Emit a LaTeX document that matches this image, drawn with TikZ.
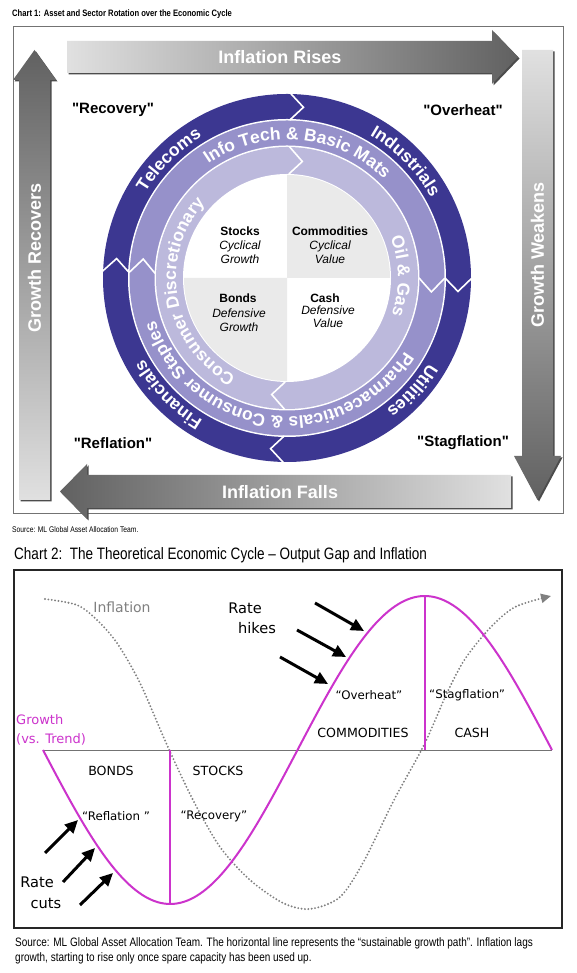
\documentclass[tikz,border=0pt]{standalone}
\usepackage{fontspec}
\setmainfont{Liberation Sans}
\newfontfamily\plainfont{Liberation Sans}
\newfontfamily\narrowfont[FakeStretch=0.82]{Liberation Sans}
\newfontfamily\comicfont{DejaVu Sans}
\usetikzlibrary{decorations.text,arrows.meta}
\definecolor{ringA}{RGB}{60,55,145}
\definecolor{ringB}{RGB}{150,145,202}
\definecolor{ringC}{RGB}{188,185,220}
\definecolor{quadgray}{RGB}{234,234,234}
\definecolor{growthmag}{RGB}{204,51,204}
\definecolor{inflgray}{RGB}{128,128,128}
\newcommand\ringfont{\fontsize{17.5}{17.5}\selectfont\bfseries}
\newcommand\ringlabel[3]{%
  \path[decorate, decoration={text along path, text align=center, text color=white, text={|\ringfont|#1}}]
    ([shift={({#2+88}:#3pt)}]C) arc[start angle={#2+88}, end angle={#2-88}, radius=#3pt];}
\newcommand\ringchev[5]{%
  \draw[white, line width=1.6pt, line join=miter] ([shift={(#1:#4pt)}]C) -- ([shift={({#1-#5}:#3pt)}]C) -- ([shift={(#1:#2pt)}]C);}
\begin{document}
\begin{tikzpicture}[x=1pt, y=1pt,
  arrtxt/.style={text=white, font=\fontsize{18}{18}\selectfont\bfseries, inner sep=0},
  phase/.style={font=\plainfont\bfseries\fontsize{15}{15}\selectfont, inner sep=0},
  qname/.style={font=\fontsize{12}{12}\selectfont\bfseries, inner sep=0},
  qdesc/.style={font=\fontsize{12}{12}\selectfont\itshape, inner sep=0},
  capsl/.style={font=\comicfont\fontsize{12.6}{13}\selectfont, inner sep=0},
  quotl/.style={font=\comicfont\fontsize{11.8}{12}\selectfont, inner sep=0},
  ratel/.style={font=\comicfont\fontsize{14.6}{15}\selectfont, inner sep=0},
  growth/.style={draw=growthmag, line width=2pt},
  ratearrow/.style={line width=3pt, -{Triangle[length=13pt,width=12pt]}},
  infl/.style={draw=inflgray, line width=2.1pt, dash pattern=on 0pt off 3.4pt, line cap=round}
]
\useasboundingbox (0,0) rectangle (577,973);
\fill[white] (0,0) rectangle (577,973);

% ---------------- Chart 1 ----------------
\node[anchor=west, font=\narrowfont\bfseries\fontsize{9.3}{10}\selectfont, inner sep=0] (t1) at (12,959) {Chart 1: Asset and Sector Rotation over the Economic Cycle};
\draw[black!55, line width=0.8pt] (13,460) rectangle (563,947);

% top arrow
\fill[black!70, shift={(1.5,-1.5)}] (67,932) -- (492,932) -- (492,943) -- (518,916) -- (492,889) -- (492,900) -- (67,900) -- cycle;
\shade[left color=black!12, right color=black!62] (67,932) -- (492,932) -- (492,943) -- (518,916) -- (492,889) -- (492,900) -- (67,900) -- cycle;
% right arrow
\fill[black!70, shift={(1.5,-1.5)}] (522,923) -- (553,923) -- (553,517) -- (561,517) -- (537.5,473) -- (514,517) -- (522,517) -- cycle;
\shade[top color=black!12, bottom color=black!62] (522,923) -- (553,923) -- (553,517) -- (561,517) -- (537.5,473) -- (514,517) -- (522,517) -- cycle;
% bottom arrow
\fill[black!70, shift={(1.5,-1.5)}] (511,498) -- (87,498) -- (87,509) -- (60,481.5) -- (87,454) -- (87,465) -- (511,465) -- cycle;
\shade[left color=black!62, right color=black!12] (511,498) -- (87,498) -- (87,509) -- (60,481.5) -- (87,454) -- (87,465) -- (511,465) -- cycle;
% left arrow
\fill[black!70, shift={(1.5,-1.5)}] (19,473) -- (19,893) -- (13,893) -- (34.5,923) -- (56,893) -- (50,893) -- (50,473) -- cycle;
\shade[top color=black!62, bottom color=black!12] (19,473) -- (19,893) -- (13,893) -- (34.5,923) -- (56,893) -- (50,893) -- (50,473) -- cycle;

\node[arrtxt] (ir) at (280,916) {Inflation Rises};
\node[arrtxt] (if) at (280,481) {Inflation Falls};
\node[arrtxt, rotate=90] (gr) at (34.5,715) {Growth Recovers};
\node[arrtxt, rotate=90] (gw) at (537.5,718) {Growth Weakens};

\node[phase] (prec) at (113,863) {"Recovery"};
\node[phase] (pover) at (463,863) {"Overheat"};
\node[phase] (prefl) at (113,530) {"Reflation"};
\node[phase] (pstag) at (463,530) {"Stagflation"};

% rings
\coordinate (C) at (287,695);
\fill[ringA] (C) circle[radius=184pt];
\fill[white] (C) circle[radius=159pt];
\fill[ringB] (C) circle[radius=157.5pt];
\fill[white] (C) circle[radius=132.5pt];
\fill[ringC] (C) circle[radius=131pt];
\fill[white] (C) circle[radius=104pt];
\fill[quadgray] (C) -- ([shift={(0:103pt)}]C) arc[start angle=0, end angle=90, radius=103pt] -- cycle;
\fill[quadgray] (C) -- ([shift={(180:103pt)}]C) arc[start angle=180, end angle=270, radius=103pt] -- cycle;

\ringchev{89}{158}{171.5}{185}{4.5}
\ringchev{0}{158}{171.5}{185}{4.5}
\ringchev{269}{158}{171.5}{185}{4.5}
\ringchev{178}{158}{171.5}{185}{4.5}
\ringchev{0}{132}{145}{158}{5.5}
\ringchev{178}{132}{145}{158}{5.5}
\ringchev{89}{104}{117.5}{131.5}{6.5}
\ringchev{269}{104}{117.5}{131.5}{6.5}

\ringlabel{Telecoms}{135}{165}
\ringlabel{Industrials}{44.5}{165}
\ringlabel{Utilities}{-42}{165}
\ringlabel{Financials}{224.5}{165}
\ringlabel{Info Tech {\&} Basic Mats}{85}{138.5}
\ringlabel{Pharmaceuticals {\&} Consumer Staples}{263}{138.5}
\ringlabel{Consumer Discretionary}{190}{111}
\ringlabel{Oil {\&} Gas}{1}{111}

\node[qname] (qs) at (240,742) {Stocks};
\node[qdesc] (qs1) at (240,727) {Cyclical};
\node[qdesc] (qs2) at (240,714) {Growth};
\node[qname] (qc) at (330,742) {Commodities};
\node[qdesc] (qc1) at (330,727) {Cyclical};
\node[qdesc] (qc2) at (330,714) {Value};
\node[qname] (qb) at (238,675) {Bonds};
\node[qdesc] (qb1) at (239,660) {Defensive};
\node[qdesc] (qb2) at (239,646) {Growth};
\node[qname] (qk) at (325,675) {Cash};
\node[qdesc] (qk1) at (328,663) {Defensive};
\node[qdesc] (qk2) at (328,650) {Value};

\node[anchor=west, font=\narrowfont\fontsize{8.2}{9}\selectfont, inner sep=0] (src1) at (12,443) {Source: ML Global Asset Allocation Team.};

% ---------------- Chart 2 ----------------
\node[anchor=west, font=\narrowfont\fontsize{16.5}{17}\selectfont, inner sep=0] (t2) at (14,418) {Chart 2:\ \ The Theoretical Economic Cycle – Output Gap and Inflation};
\draw[black!85, line width=1.6pt] (14,45) rectangle (562,403);

\coordinate (hl) at (43,223);
\coordinate (hr) at (552,223);
\draw[black!55, line width=0.9pt] (hl) -- (hr);

% inflation
\draw[infl, -{Triangle[length=10pt,width=9pt]}] plot[smooth, tension=0.5] coordinates {(45,374) (77,368) (97,353) (117,330) (140,290) (167,228) (193,173) (220,126) (250,93) (283,70) (310,64) (340,76) (364,112) (394,173) (424,228) (447,280) (465,314) (490,345) (515,366) (551,377)};

% growth
\draw[growth] plot[domain=43:552, samples=160] (\x, {223-154*sin(0.707269*(\x-43))});
\coordinate (gmin) at (170.25,69);
\coordinate (gmin0) at (170.25,223);
\coordinate (gmax) at (424.75,377);
\coordinate (gmax0) at (424.75,223);
\draw[growth] (gmin0) -- (gmin);
\draw[growth] (gmax0) -- (gmax);

% rate arrows
\coordinate (h1s) at (315,370); \coordinate (h1e) at (364,342);
\coordinate (h2s) at (297,343); \coordinate (h2e) at (346,316);
\coordinate (h3s) at (280,316); \coordinate (h3e) at (328,289);
\draw[ratearrow] (h1s) -- (h1e);
\draw[ratearrow] (h2s) -- (h2e);
\draw[ratearrow] (h3s) -- (h3e);
\coordinate (c1s) at (45,120); \coordinate (c1e) at (78,153);
\coordinate (c2s) at (63,91); \coordinate (c2e) at (95,125);
\coordinate (c3s) at (80,68); \coordinate (c3e) at (113,100);
\draw[ratearrow] (c1s) -- (c1e);
\draw[ratearrow] (c2s) -- (c2e);
\draw[ratearrow] (c3s) -- (c3e);

\node[font=\comicfont\fontsize{14}{14}\selectfont, text=black!50, inner sep=0] (infl) at (122,366) {Inflation};
\node[ratel] (rh1) at (245,365) {Rate};
\node[ratel] (rh2) at (257,345) {hikes};
\node[ratel] (rc1) at (37,91) {Rate};
\node[ratel] (rc2) at (46,70) {cuts};
\node[anchor=west, font=\comicfont\fontsize{13}{13}\selectfont, text=growthmag, inner sep=0] (g1) at (16,253) {Growth};
\node[anchor=west, font=\comicfont\fontsize{13}{13}\selectfont, text=growthmag, inner sep=0] (g2) at (16,234) {(vs. Trend)};

\node[capsl] (lb) at (111,202) {BONDS};
\node[capsl] (ls) at (218,202) {STOCKS};
\node[capsl] (lc) at (363,240) {COMMODITIES};
\node[capsl] (lk) at (472,240) {CASH};
\node[quotl] (lrf) at (116,157) {“Reflation ”};
\node[quotl] (lrc) at (214,157) {“Recovery”};
\node[quotl] (lov) at (369,278) {“Overheat”};
\node[quotl] (lst) at (467,278) {“Stagflation”};

\node[anchor=west, font=\narrowfont\fontsize{12.2}{13}\selectfont, inner sep=0] (cap1) at (15,30) {Source: ML Global Asset Allocation Team. The horizontal line represents the “sustainable growth path”. Inflation lags};
\node[anchor=west, font=\narrowfont\fontsize{12.2}{13}\selectfont, inner sep=0] (cap2) at (15,15) {growth, starting to rise only once spare capacity has been used up.};
\end{tikzpicture}
\end{document}
